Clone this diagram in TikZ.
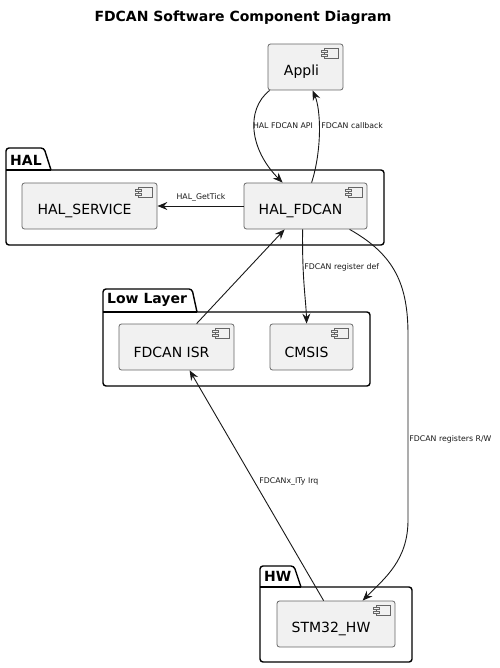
\documentclass[tikz,border=0pt]{standalone}
\usepackage{fontspec}
\setmainfont{DejaVu Sans}
\usetikzlibrary{arrows.meta}
\definecolor{cborder}{HTML}{666666}
\definecolor{cfill}{HTML}{F1F1F1}
\definecolor{lnk}{HTML}{181818}
\newcommand{\cicon}[1]{%
  \draw[cborder, fill=cfill, line width=0.6pt] ([xshift=-19pt,yshift=-5pt]#1.north east) rectangle ([xshift=-5pt,yshift=-15pt]#1.north east);
  \draw[cborder, fill=cfill, line width=0.6pt] ([xshift=-22pt,yshift=-7pt]#1.north east) rectangle ([xshift=-16pt,yshift=-9pt]#1.north east);
  \draw[cborder, fill=cfill, line width=0.6pt] ([xshift=-22pt,yshift=-11pt]#1.north east) rectangle ([xshift=-16pt,yshift=-13pt]#1.north east);
}
\tikzset{
  comp/.style={draw=cborder, fill=cfill, line width=0.8pt, rounded corners=2.5pt, minimum height=46pt, inner sep=0pt},
  ctext/.style={font=\fontsize{14}{16}\selectfont, text=black},
  pkgline/.style={draw=black, line width=1.4pt, rounded corners=3pt},
  pkgtitle/.style={font=\bfseries\fontsize{14}{16}\selectfont, anchor=west, inner sep=0pt},
  lbl/.style={font=\fontsize{7.8}{9}\selectfont, text=lnk, inner sep=0pt},
  link/.style={draw=lnk, line width=0.9pt},
  arr/.style={link, -{Stealth[length=10pt,width=8pt,inset=3.5pt]}},
}
\begin{document}
\begin{tikzpicture}[x=1pt, y=-1pt]
\useasboundingbox (0,0) rectangle (499,668);

% title
\node[font=\bfseries\fontsize{14}{16}\selectfont] (title) at (243,18) {FDCAN Software Component Diagram};

% packages
\draw[pkgline] (51,170) -- (384,170) -- (384,245) -- (6,245) -- (6,148) -- (44,148) -- (51,170);
\draw[line width=1.4pt] (6,170) -- (51,170);
\node[pkgtitle] (halt) at (10,160) {HAL};

\draw[pkgline] (197,312) -- (370,312) -- (370,386) -- (103,386) -- (103,289) -- (192,289) -- (197,312);
\draw[line width=1.4pt] (103,312) -- (197,312);
\node[pkgtitle] (llt) at (107,300) {Low Layer};

\draw[pkgline] (301,587) -- (412,587) -- (412,662) -- (260,662) -- (260,566) -- (294,566) -- (301,587);
\draw[line width=1.4pt] (260,587) -- (301,587);
\node[pkgtitle] (hwt) at (264,576) {HW};

% components
\node[comp, minimum width=75pt, label={[ctext, xshift=-4pt, yshift=-5pt]center:Appli}] (appli) at (305.5,67) {};
\node[comp, minimum width=135pt, label={[ctext, xshift=-5pt, yshift=-5pt]center:HAL\_SERVICE}] (service) at (89.5,206) {};
\node[comp, minimum width=123pt, label={[ctext, xshift=-5pt, yshift=-5pt]center:HAL\_FDCAN}] (fdcan) at (305.5,206) {};
\node[comp, minimum width=115pt, label={[ctext, xshift=-5pt, yshift=-5pt]center:FDCAN ISR}] (isr) at (176.5,347) {};
\node[comp, minimum width=83pt, label={[ctext, xshift=-5pt, yshift=-5pt]center:CMSIS}] (cmsis) at (311.5,347) {};
\node[comp, minimum width=118pt, label={[ctext, xshift=-5pt, yshift=-5pt]center:STM32\_HW}] (hw) at (336,624) {};
\cicon{appli}\cicon{service}\cicon{fdcan}\cicon{isr}\cicon{cmsis}\cicon{hw}

% connectors
\draw[arr] ([xshift=2pt]appli.south west) .. controls (245,110) and (250,150) .. ([xshift=39pt]fdcan.north west)
  node[lbl] at (283,126) {HAL FDCAN API};
\draw[arr] ([xshift=68pt]fdcan.north west) .. controls (322,150) and (321,110) .. ([xshift=45pt]appli.south west)
  node[lbl, anchor=west] at (321,126) {FDCAN callback};
\draw[arr] (fdcan.west) -- (service.east)
  node[lbl] at (201,197) {HAL\_GetTick};
\draw[arr] ([xshift=59pt]fdcan.south west) .. controls (302,280) and (306,300) .. ([xshift=37pt]cmsis.north west)
  node[lbl, anchor=west] at (304,267) {FDCAN register def};
\draw[arr] ([xshift=78pt]isr.north west) -- ([xshift=41pt]fdcan.south west);
\draw[arr] ([xshift=106pt]fdcan.south west) .. controls (395,255) and (408,285) .. (408,335) -- (408,520)
  .. controls (408,560) and (385,578) .. ([xshift=86pt]hw.north west)
  node[lbl, anchor=west] at (409,439) {FDCAN registers R/W};
\draw[arr] ([xshift=47pt]hw.north west) -- ([xshift=71pt]isr.south west)
  node[lbl, anchor=west] at (259,482) {FDCANx\_ITy Irq};
\end{tikzpicture}
\end{document}
